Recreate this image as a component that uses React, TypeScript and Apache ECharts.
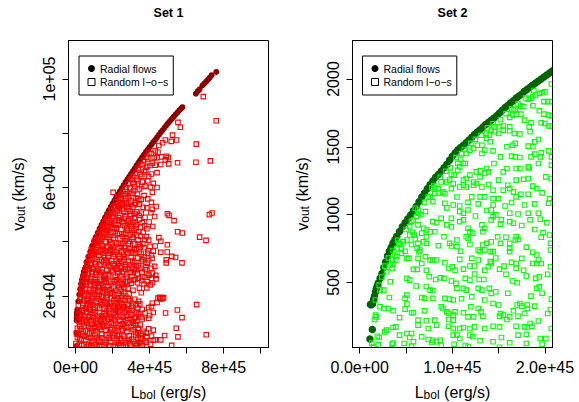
import React, { useEffect, useRef } from "react";
import * as echarts from "echarts";

const FONT = '"Liberation Sans", Arial, sans-serif';
const NAME_RADIAL = "Radial flows";
const NAME_RANDOM = "Random l\u2212o\u2212s";

// Set 1: x in 1e45 erg/s, y in 1000 km/s
const set1XTicks = [0, 2, 4, 6, 8, 10];
const set1XLabels: Record<number, string> = { 0: "0e+00", 4: "4e+45", 8: "8e+45" };
const set1YTicks = [20, 40, 60, 80, 100];
const set1YLabels: Record<number, string> = { 20: "2e+04", 60: "6e+04", 100: "1e+05" };

const set1Radial = [
  [0.03,1.5],[0.05,6.5],[0.06,11],[0.07,12],[0.07,13],[0.08,14],[0.1,15],[0.15,18],[0.2,20.5],[0.25,22.5],[0.3,24.5],[0.35,26],[0.4,27.5],[0.45,29],[0.5,30],
  [0.6,32.5],[0.7,34.5],[0.8,36.5],[0.9,38.5],[1,40.2],[1.1,41.8],[1.2,43.3],[1.3,44.8],[1.4,46.2],[1.5,47.6],[1.6,49],[1.7,50.3],[1.8,51.6],[1.9,52.9],[2,54.1],
  [2.1,55.3],[2.2,56.4],[2.3,57.6],[2.4,58.7],[2.5,59.8],[2.6,60.9],[2.7,62],[2.8,63],[2.9,64],[3,65],[3.1,66],[3.2,67.1],[3.3,68.2],[3.4,69.2],[3.5,70.2],
  [3.6,71.2],[3.7,72.1],[3.8,73.1],[3.9,74],[4,74.9],[4.1,75.8],[4.2,76.7],[4.3,77.6],[4.4,78.5],[4.5,79.4],[4.6,80.3],[4.7,81.1],[4.8,82],[4.9,82.9],[5,83.7],
  [5.1,84.5],[5.2,85.3],[5.3,86.1],[5.4,86.9],[5.5,87.6],[5.6,88.4],[5.7,89.1],[5.77,89.6],
  [6.5,94.6],[6.6,95.5],[6.7,96.2],[6.85,97.6],[6.95,98.3],[7.05,99],[7.15,99.8],[7.25,100.5],[7.35,101.4],[7.6,102.6],
];

const set1Random = [
  [6.9,93.5],[7.6,84.6],[5.53,84],[5.66,82.2],[5.24,79.3],[6.52,76],[4.85,77.5],[5.17,77],[5.46,77.5],[4.7,76.5],[4.5,75.5],[4.9,71.5],[5.0,71],[4.85,70.2],[4.4,71],[4.65,71.3],
  [5.51,69.1],[5.03,68.7],[6.5,69.3],[7.28,69.8],[7.37,50.6],[7.23,50],[5.32,47.8],[4.96,50.3],[5.05,49.7],[5.51,43.7],[5.77,43.2],[6.7,41.7],[7.05,40.5],[4.5,41.5],[4.6,40.2],[4.96,38.9],
  [4.3,38.4],[4.6,36.1],[4.2,36.5],[4.95,36.2],[5.2,34.6],[5.4,34.2],[4.9,33.3],[5.75,32.2],[4.9,32.2],[6.54,16.8],[5.5,14.8],[4.86,13.7],[5.75,12],[5.44,8.1],[7.06,5.7],[5.53,4.9],[4.81,5.4],[5.19,1.8],[4.3,3.8],[4.6,3.8],
  [4.25,71],[4.1,72.5],[4.3,73.5],[4.45,73],[3.9,70.5],[4.15,69],[4.3,68.2],[3.65,68.5],[3.85,67.5],[4.4,65.5],[4.1,65],[3.7,65.7],[3.5,64.8],[3.95,64],[4.6,68.5],[3.4,66.5],
  [3.9,62.5],[4.2,61.5],[3.6,62],[3.3,63],[3.1,61.8],[3.75,60.5],[4.05,60.2],[4.4,60],[4.15,58.2],[3.45,59.5],[2.95,59.8],[3.2,60.2],[2.75,60],[3.35,57.5],[3.7,57],[3.05,57.8],[3.9,55.8],[4.1,54.5],[3.55,55.6],
  [2.6,57.5],[2.85,56.8],[2.45,56],[2.3,55],[2.65,55],[3,55],[3.25,54.2],[3.45,53.8],[2.1,53.2],[2.45,53.5],[2.8,53],[3.1,52.8],[3.65,52.7],[3.85,52.5],[4.15,52],[4.35,53],[1.95,51],[2.25,51.5],[2.6,51.3],[2.95,51.2],
  [3.3,51],[3.55,50.5],[1.75,49.7],[2.05,49.4],[2.4,49.7],[2.7,49.2],[3,49.6],[3.2,48.8],[3.45,48.2],[3.75,49],[1.85,47.8],[2.15,47.9],[2.5,47.5],[2.85,47.8],[3.1,47],[3.6,47],[1.6,47.5],[1.95,46.7],[2.3,46.3],[2.65,46],
  [3,45.7],[3.3,46.2],[3.5,45.4],[3.85,44.8],[1.45,45.2],[1.75,45.5],[2.1,44.8],[2.45,44.5],[2.8,44.2],[3.15,44.2],[3.65,43.5],[1.3,43.8],[1.6,43.6],[1.9,43.4],[2.25,43],[2.6,42.8],[2.95,42.6],[3.3,42.5],[3.5,42],[1.2,42.2],
  [1.45,41.8],[1.75,41.7],[2.05,41.4],[2.4,41.1],[2.75,41],[3.05,40.9],[3.75,40.8],[3.95,40.6],[1.05,40.5],[1.3,40.2],[1.6,40],[1.9,39.8],[2.2,39.6],[2.55,39.4],[2.85,39.3],[3.2,39.2],[3.45,39],[1,38.5],
  [1.2,38.7],[1.45,38.4],[1.75,38.2],[2.05,38],[2.35,37.7],[2.65,37.9],[2.95,37.5],[3.3,37.4],[3.7,37.8],[0.85,37.2],[1.1,37],[1.35,36.8],[1.6,36.6],[1.9,36.4],[2.2,36.1],[2.5,36.2],[2.8,35.9],[3.1,35.8],[3.55,35.5],
  [3.9,35.7],[0.8,35.5],[1,35.3],[1.25,35],[1.5,35],[1.75,34.8],[2.05,34.5],[2.35,34.6],[2.65,34.4],[3,34.2],[3.35,34],[3.7,34.4],[4.1,35.1],[0.7,33.9],[0.9,33.7],[1.15,33.5],[1.4,33.3],[1.65,33.1],[1.95,33],
  [2.2,32.8],[2.5,32.7],[2.85,32.6],[3.2,32.3],[3.55,32.7],[3.95,33],[0.6,32],[0.85,32.1],[1.05,31.8],[1.3,31.6],[1.55,31.6],[1.8,31.3],[2.1,31.1],[2.4,31],[2.7,30.8],[3.05,30.7],[3.4,31.2],[3.8,30.8],[4.1,30.2],
  [0.55,30.4],[0.75,30.2],[0.95,30],[1.2,29.9],[1.45,29.7],[1.7,29.5],[2,29.4],[2.3,29.2],[2.6,29],[2.95,28.7],[3.25,29.3],[3.6,28.8],[3.85,28.3],[4.15,28.4],[0.5,28.5],[0.7,28.3],[0.9,28.2],[1.1,27.9],[1.35,27.8],
  [1.6,27.6],[1.85,27.4],[2.15,27.2],[2.45,27.1],[2.75,26.9],[3.05,27.2],[3.4,26.5],[3.75,26.9],[4.1,26.4],[4.35,26.3],[0.4,26.4],[0.65,26.5],[0.85,26.2],[1.05,26],[1.3,25.8],[1.55,25.6],[1.8,25.4],[2.1,25.3],
  [2.4,25],[2.7,25.1],[3,24.7],[3.35,24.9],[3.7,24.4],[4.15,24.9],[0.35,24.5],[0.6,24.4],[0.8,24.2],[1,24],[1.25,23.8],[1.5,23.7],[1.75,23.5],[2.05,23.3],[2.35,23.1],[2.65,23],[3.45,22.9],[3.85,23],[0.3,22.6],
  [0.55,22.6],[0.75,22.2],[0.95,22],[1.2,21.8],[1.45,21.6],[1.7,21.5],[2,21.2],[2.3,21],[2.6,21],[2.9,20.8],[3.55,21.2],[0.3,20.7],[0.5,20.4],[0.7,20.2],[0.9,20],[1.15,19.8],[1.4,19.6],[1.65,19.4],[1.95,19.2],
  [2.25,19.1],[2.55,18.9],[2.85,19],[3.2,18.8],[4.45,19.2],[4.6,18.9],[4.75,19.4],[4.55,19.5],[4.7,19],[0.25,18.7],[0.45,18.4],[0.65,18.2],[0.85,18],[1.1,17.8],[1.35,17.7],[1.6,17.5],[1.9,17.3],[2.2,17.1],
  [2.5,17],[2.8,16.9],[3.1,17.2],[3.4,18],[4.15,17.3],[4.4,17.6],[0.15,16.6],[0.4,16.5],[0.6,16.3],[0.8,16],[1.05,15.8],[1.3,15.6],[1.55,15.4],[1.85,15.3],[2.15,15.1],[2.45,15],[2.75,14.9],[3.05,14.7],[3.35,15.5],
  [3.6,15],[3.95,15.7],[4.1,16.1],[0.2,14.6],[0.4,14.4],[0.6,14.2],[0.8,14],[1.05,13.8],[1.3,13.7],[1.55,13.5],[1.85,13.3],[2.15,13.1],[2.45,13],[2.75,12.9],[3.05,13.2],[3.4,13.3],[3.75,13.7],[4,12.8],[4.2,13.9],
  [0.25,12.6],[0.45,12.3],[0.7,12.1],[0.95,12],[1.2,11.7],[1.5,11.6],[1.8,11.4],[2.1,11.2],[2.4,11],[2.7,10.9],[3,11.2],[3.3,10.7],[3.6,11.5],[3.95,11.8],[0.2,10.5],[0.35,10.2],[0.6,10],[0.9,9.9],[1.2,9.7],[1.45,9.5],
  [1.75,9.3],[2.05,9.2],[2.35,9],[2.65,8.9],[3,8.7],[3.25,9.5],[3.5,9.3],[0.3,7.9],[0.1,8.1],[0.8,8],[1.05,7.9],[1.35,7.7],[1.65,7.4],[1.95,7.5],[2.3,7.2],[2.55,7.3],[3.1,7.6],[3.4,7.7],[3.65,7],[3.95,7.9],[4.2,7.4],
  [0.05,6.1],[0.15,5.9],[0.35,6],[0.75,6],[1.05,5.8],[1.4,5.8],[1.7,5.5],[2,5.6],[2.25,5.4],[2.6,5.2],[2.9,5.3],[3.25,5.5],[3.55,5.4],[3.85,5],[4.1,5.2],[0.1,4.7],[0.3,3.8],[0.55,3.9],[0.95,3.6],[1.25,3.8],[1.6,3.7],
  [1.9,3.4],[2.2,3.5],[2.5,3.7],[2.85,3.6],[3.15,3.2],[3.45,3],[3.75,3.5],[4.05,2.2],[4.2,3.7],[0.02,2.5],[0.2,2.2],[0.45,1.9],[0.7,2],[1,1.9],[1.3,1.7],[1.55,2],[1.85,1.5],[2.15,1.8],[2.45,1.6],[2.7,1.8],[3,1.5],[3.3,1.7],[3.6,1.8],[0.05,1.2],[0.6,1.2],[1.15,1.2],
  [0.33,23.1],[0.41,25.7],[0.47,27.3],[0.52,29.1],[0.63,31.2],[0.71,33.1],[0.82,35.4],[0.93,37.1],[1.07,39.3],[1.16,40.9],[1.27,42.6],[1.37,44.3],[1.49,46.1],[1.58,47.2],[1.69,48.6],[1.81,50.2],[1.93,51.9],[2.04,53.1],[2.17,54.7],[2.29,56.1],[2.42,57.2],[2.55,58.6],[2.68,60.1],[2.83,61.4],[2.97,63.1],[3.08,64.2],[3.24,65.3],[3.37,67.2],[3.52,68.4],[3.68,69.9],[3.83,71.1],[3.96,72.7],
  [1.13,36.3],[1.87,37.1],[2.71,31.7],[0.97,25.3],[1.52,26.9],[2.29,24.1],[3.13,25.9],[0.67,17.1],[1.43,19.9],[2.09,16.3],[2.93,18.2],[1.22,12.8],[1.93,10.1],[2.57,12.2],[3.22,12.1],[0.87,6.9],[1.49,8.7],[2.13,6.3],[2.77,6.8],[3.37,4.3],
  [1.37,39.2],[1.67,42.7],[2.17,46.1],[2.53,41.9],[2.97,47.2],[3.27,44.9],[1.81,35.7],[2.39,33.7],[2.87,37.3],[3.43,36.1],[1.13,30.9],[1.63,32.2],[2.23,30.3],[2.77,28.1],[3.33,28.2],[0.77,25.3],[1.27,23.1],[1.83,22.3],[2.47,22.2],[2.83,22.7],
  [0.93,19.1],[1.53,18.3],[2.07,18.2],[2.63,16.1],[3.03,16.2],[0.53,15.3],[0.97,14.9],[1.67,14.4],[2.33,14.3],[2.93,13.9],[3.27,14.1],[0.37,11.3],[0.83,10.9],[1.37,10.7],[1.97,12.3],[2.53,9.8],[3.13,9.9],[3.37,8.2],[0.53,7.1],[1.17,6.8],
  [1.83,6.3],[2.43,4.3],[3.03,4.1],[0.67,4.8],[1.43,4.6],[2.07,4.4],[2.73,2.7],[3.33,2.5],[0.87,2.7],[1.67,2.8],[2.33,2.6],[3.53,4.2],[2.03,58.2],[2.37,52.3],[2.73,57.7],[3.13,58.9],[3.57,60.3],[3.27,56.1],[2.87,54.3],[3.43,49.7],
  [1.57,44.7],[1.98,45.3],[2.33,47.8],[2.77,45.1],[3.07,43.3],[3.38,40.7],[3.63,39.2],[1.47,37.2],[1.97,39.1],[2.47,38.3],[2.9,40.1],[3.17,37.1],[3.5,38.1],[1.03,34.2],[1.57,34.1],[2.13,35.3],[2.6,35.4],[3.07,33.1],[3.63,33.4],[0.87,28.9],
  [1.27,28.7],[1.77,28.1],[2.27,28.2],[2.83,30.1],[3.17,30],[3.53,30.2],[0.57,26.8],[1.17,25.2],[1.67,24.9],[2.2,26],[2.57,26.2],[2.93,25.8],[3.23,26.1],[3.57,25.7],[0.47,21.3],[1.07,22.9],[1.57,22.3],[2.17,22.1],[2.47,20.1],[3.1,22.1],
  [0.77,16.9],[1.23,18.9],[1.77,16.3],[2.37,16.1],[2.67,18.4],[3.27,16.7],[3.47,17.1],[0.33,13.1],[0.9,13.1],[1.43,12.4],[2.03,13.9],[2.63,14],[3.17,11.9],[3.53,12.3],[0.47,8.9],[1.03,8.8],[1.57,10.3],[2.23,8.3],[2.83,10.1],[3.37,6.3],
  [4.02,38.3],[4.13,33.9],[3.87,32.1],[4.27,30.9],[3.97,27.7],[3.63,27.1],[3.77,29.7],[4.03,24.1],[3.87,25.3],[4.33,27.6],[3.93,36.7],[3.83,41.9],[3.97,47.3],[4.17,45.6],[3.73,45.9],[4.07,50.7],[4.27,49.3],
  [0.28,19.4],[0.36,21.7],[0.44,23.9],[0.58,25.1],[0.69,29.3],[0.79,31.4],[0.91,34.9],[1.04,36.4],[1.22,39.8],[1.33,41.1],[1.52,43.1],[1.64,45.2],[1.82,47.1],[1.99,48.7],[2.12,50.6],[2.31,52.9],[2.52,54.4],[2.72,55.9],[2.93,57.9],[3.16,61.1],[3.38,62.4],[3.58,64.1],[3.79,66.3],[4.02,68.1],
  [0.42,17.3],[0.62,19.1],[0.82,21.3],[1.02,20.7],[1.28,20.6],[1.48,22.8],[1.72,20.4],[1.88,20.9],[2.12,20.3],[2.38,18.2],[2.72,19.9],[1.12,24.7],[1.38,24.6],[1.62,26.3],[1.92,24.4],[2.23,25.9],[2.52,24.2],[2.82,25.3],[1.08,28.7],[1.42,28.8],
  [1.88,30.3],[2.18,29.9],[2.48,30.2],[2.68,29.8],[3.12,28.6],[1.28,32.7],[1.72,32.4],[2.03,31.9],[2.33,32.1],[2.62,33.3],[2.92,31.4],[3.28,31.1],[1.22,36.1],[1.48,36.2],[1.68,37.7],[2.02,36.9],[2.28,35.4],[2.72,36.7],[3.02,36.3],[3.23,35.7],
  [1.42,40.9],[1.83,40.7],[2.13,42.3],[2.32,39.2],[2.67,40.3],[3.12,41.6],[3.38,38.9],[1.72,44.2],[2.03,43.6],[2.38,42.9],[2.72,43.1],[3.03,44.8],[3.42,43.7],[1.88,46.2],[2.22,45.1],[2.58,47],[2.92,46.4],[3.22,47.3],[2.03,50.4],[2.32,48.9],
  [2.63,48.4],[2.92,50.1],[3.22,50.2],[2.18,52.4],[2.52,52.1],[2.88,52.1],[3.18,53.7],[3.42,55.2],[2.38,54.1],[2.73,54.2],[3.12,56.2],[0.13,13.2],[0.32,14.9],[0.72,15.1],[0.93,16.7],[1.18,16.4],[1.42,16.7],[1.72,17.3],[2.03,15.8],[2.28,15.9],
  [2.58,15.7],[2.88,15.4],[0.12,11.1],[0.52,11.1],[0.78,12.9],[1.08,10.8],[1.33,11.2],[1.62,12.7],[1.88,12.2],[2.28,12.3],[2.82,11.7],[3.12,10.6],[0.22,8.9],[0.42,6.7],[0.68,8.9],[0.92,8.2],[1.28,8.6],[1.58,8.9],[1.88,8.4],[2.18,9.9],
  [2.48,7.9],[2.78,8.2],[3.22,6.7],[3.52,6.3],[3.82,6.3],[0.22,4.2],[0.48,5.2],[0.82,4.7],[1.13,4.7],[1.33,3],[1.78,4.4],[2.33,5.8],[2.63,4.4],[2.93,2.4],[3.22,2.3],[3.52,2.4],[3.83,2.9],[0.33,1.8],[0.83,1.7],[1.42,1.4],[2.03,1.3],[2.58,1.3],
];

// Set 2: x in 1e45 erg/s, y in km/s
const set2XTicks = [0, 0.5, 1, 1.5, 2];
const set2XLabels: Record<number, string> = { 0: "0.0e+00", 1: "1.0e+45", 2: "2.0e+45" };
const set2YTicks = [500, 1000, 1500, 2000];
const set2YLabels: Record<number, string> = { 500: "500", 1000: "1000", 1500: "1500", 2000: "2000" };

const set2Radial = [
  [0.11,82],[0.136,153],[0.115,338],[0.125,335],[0.135,340],[0.14,345],[0.15,375],[0.16,400],[0.17,430],[0.18,455],[0.19,475],[0.2,495],[0.22,530],[0.24,565],[0.26,610],[0.28,650],
  [0.3,695],[0.32,730],[0.34,760],[0.36,790],[0.38,815],[0.4,840],[0.43,875],[0.46,910],[0.49,940],[0.52,970],[0.55,998],[0.58,1028],[0.61,1060],[0.64,1095],[0.67,1130],[0.7,1160],
  [0.73,1190],[0.76,1220],[0.79,1248],[0.82,1275],[0.85,1295],[0.88,1320],[0.91,1345],[0.94,1370],[0.97,1400],[1,1430],[1.03,1455],[1.06,1478],[1.09,1495],[1.12,1512],[1.15,1530],
  [1.18,1550],[1.21,1570],[1.24,1590],[1.27,1610],[1.3,1625],[1.33,1645],[1.36,1665],[1.39,1680],[1.42,1695],[1.45,1712],[1.48,1730],[1.51,1750],[1.54,1770],[1.57,1790],[1.6,1805],
  [1.63,1825],[1.66,1840],[1.69,1860],[1.72,1875],[1.75,1890],[1.78,1910],[1.81,1925],[1.84,1940],[1.87,1955],[1.9,1970],[1.93,1985],[1.96,2000],[1.99,2015],[2.02,2030],[2.05,2045],[2.08,2060],
];

const set2Random = [
  [2.07,1963],[2,1906],[1.97,1899],[1.94,1894],[1.9,1882],[1.87,1869],[1.85,1857],[1.82,1852],[1.99,1833],[2.03,1833],[2.07,1833],[1.87,1803],[1.77,1796],[1.74,1800],[1.94,1766],[1.99,1741],[2.04,1734],[2.07,1727],
  [1.68,1771],[1.66,1771],[1.62,1717],[1.65,1734],[1.69,1741],[1.74,1741],[1.78,1697],[1.85,1677],[1.83,1648],[1.96,1677],[2,1672],[2.04,1653],[2.07,1653],[1.62,1648],[1.55,1653],[1.51,1648],[1.45,1648],[1.42,1623],
  [1.46,1611],[1.37,1598],[1.4,1586],[1.37,1562],[1.55,1623],[1.62,1618],[1.67,1598],[1.73,1594],[1.5,1598],[1.84,1611],[1.93,1554],[1.89,1537],[1.82,1505],[1.87,1500],[2.04,1470],[2.07,1426],[1.96,1456],[1.89,1446],
  [1.95,1426],[1.93,1377],[1.85,1426],[1.59,1500],[1.65,1512],[1.68,1525],[1.64,1431],[1.68,1426],[1.73,1421],[2.07,1365],[1.82,1352],[1.83,1340],[1.73,1340],[1.69,1340],[1.55,1315],[1.59,1340],[1.41,1537],[1.32,1512],
  [1.27,1512],[1.35,1475],[1.23,1488],[1.19,1475],[1.15,1451],[1.09,1406],[1.12,1377],[1.06,1377],[1.14,1377],[1.08,1352],[1.06,1328],[1.32,1451],[1.44,1470],[1.52,1426],[1.45,1377],[1.37,1340],[1.3,1323],[1.26,1315],
  [1.39,1315],[1.35,1303],[1.3,1278],[1.19,1291],[1.15,1266],[1.23,1241],[1.12,1254],[1.02,1291],[0.99,1298],[0.97,1254],[1.01,1229],[0.94,1241],[0.88,1241],[0.85,1192],[0.81,1199],[0.78,1199],[0.85,1160],[0.9,1168],
  [0.92,1155],[0.81,1155],[0.76,1131],[0.99,1192],[1.08,1204],[1.12,1217],[1.15,1204],[1.23,1217],[1.26,1229],[1.32,1204],[1.39,1222],[1.5,1254],[1.6,1217],[1.69,1254],[1.77,1261],[1.82,1266],[2.01,1278],[2.07,1266],
  [1.62,1192],[1.66,1168],[1.91,1192],[1.82,1150],[1.69,1131],[1.5,1118],[1.44,1118],[1.35,1131],[1.3,1131],[1.21,1131],[2.05,1118],[1.44,1180],
  [0.79,1096],[0.92,1084],[1.01,1071],[1.08,1064],[1.28,1079],[1.44,1071],[1.57,1064],[1.64,1089],[1.78,1071],[1.89,1079],[2.04,1084],[0.6,1047],[0.71,1022],[0.63,1034],[1.08,1022],[1.12,1010],[1.17,1034],[1.42,1034],
  [1.47,998],[1.62,1010],[1.71,1005],[1.82,1010],[1.93,1010],[0.79,948],[0.83,941],[0.88,973],[0.99,973],[0.94,924],[0.99,911],[1.08,948],[1.12,961],[1.17,899],[1.22,862],[1.19,874],[1.32,924],[1.35,899],[1.33,874],
  [1.44,985],[1.42,961],[1.53,961],[1.62,948],[1.66,936],[1.84,961],[1.95,966],[0.54,911],[0.63,924],[0.69,899],[0.67,862],[0.72,887],[0.76,874],[0.81,874],[0.54,850],[0.59,850],[0.51,813],[0.63,788],[0.72,837],[0.69,800],
  [0.72,788],[0.65,739],[0.91,837],[0.97,788],[0.99,768],[1.05,813],[1.05,764],[1.17,825],[1.15,837],[1.49,837],[1.58,833],[1.52,788],[1.42,800],[1.37,788],[1.33,776],[1.28,739],[1.3,727],[1.35,739],[1.41,727],[1.44,727],
  [1.62,788],[1.62,751],[1.62,727],[1.69,837],[1.71,818],[1.68,813],[1.96,833],[1.98,867],[2.05,850],[2.06,788],[2.06,739],[0.45,751],[0.45,714],[0.51,677],[0.53,677],[0.62,751],[0.64,727],[0.63,677],[0.67,640],[0.71,690],
  [0.76,665],[0.79,665],[0.83,665],[0.92,645],[1.08,670],[1.21,677],[1.28,665],[1.41,653],[1.42,640],[1.39,616],[1.64,648],[1.75,677],[1.69,640],[1.69,603],[1.87,722],[1.91,702],[1.96,640],[1.91,640],[1.87,640],[1.93,665],
  [2.06,616],[0.35,665],[0.36,640],[0.33,628],[0.39,665],[0.35,603],[0.29,579],[0.58,596],[0.62,596],[1,616],[0.96,603],[1.12,598],[1.19,621],[1.24,621],[1.51,598],[0.33,505],[0.51,530],[0.54,517],[0.61,473],[0.75,542],
  [0.82,522],[0.87,534],[0.91,530],[0.99,510],[1.04,493],[1.14,530],[1.19,517],[1.24,562],[1.29,522],[1.34,522],[1.65,510],[1.7,498],[1.8,547],[1.9,530],[1.94,542],[0.22,443],[0.26,443],[0.76,443],[0.79,438],[1.05,456],
  [1.12,456],[1.15,443],[1.28,456],[1.32,443],[1.4,456],[1.47,431],[1.42,419],[1.91,456],[1.94,468],[1.85,399],[0.32,389],[0.49,382],[0.51,406],[0.67,389],[0.7,382],[0.79,382],[0.92,382],[0.97,377],[1.01,370],[1.21,394],
  [1.35,370],[1.44,345],[1.5,333],[1.66,291],[1.7,333],[1.73,345],[1.75,325],[1.81,333],[1.81,308],[1.89,325],[2.07,377],[0.17,370],[0.22,320],[0.26,308],[0.31,308],[0.36,291],[0.49,303],[0.56,276],[0.58,276],[0.51,340],
  [0.88,320],[0.9,308],[0.94,283],[0.96,271],[1.01,259],[1.03,283],[1.12,276],[1.28,308],[1.31,283],[1.33,251],[1.23,246],[1.17,246],[1.52,271],[1.55,259],[1.51,251],[1.62,246],[1.59,226],[1.78,271],[2.06,300],[2.03,271],
  [0.17,259],[0.18,246],[0.16,226],[0.63,222],[0.63,185],[0.72,217],[0.81,222],[0.83,185],[0.74,160],[0.96,226],[0.96,177],[1.01,222],[1.01,160],[1.08,160],[1.12,168],[1.19,160],[1.24,172],[1.35,160],[1.44,177],[1.51,172],
  [1.69,177],[1.78,172],[1.84,197],[1.86,177],[1.81,168],[2.07,160],[0.27,135],[0.29,148],[0.36,168],[0.39,172],[0.19,103],[0.21,94],[0.43,111],[0.51,123],[0.56,123],[0.54,94],[0.67,99],[0.74,79],[0.79,74],[0.83,62],
  [0.87,74],[1.01,111],[1.05,111],[1.08,86],[1.19,111],[1.22,99],[1.53,94],[1.44,62],[1.71,111],[1.8,118],[1.8,49],[1.95,86],[2.01,86],[1.97,44],[0.13,52],[0.15,27],[0.2,39],[0.35,44],[0.36,52],[0.58,62],[0.56,30],[0.78,57],
  [0.88,35],[1.02,44],[1.14,35],[1.17,27],[1.51,22],[0.5,890],[0.57,870],[0.47,800],[0.42,790],[0.44,780],[0.4,750],[0.49,730],[0.56,780],[0.6,820],[0.38,700],[0.4,690],[0.66,1000],[0.58,960],[0.61,985],
  [0.41,810],[0.36,735],[0.31,680],[0.27,620],[0.24,540],[0.21,480],[0.56,950],[0.63,1010],[0.7,1090],[0.74,1130],[0.8,1215],[0.87,1275],[0.93,1320],[0.98,1345],[1.04,1420],[1.1,1450],[1.13,1480],[1.2,1525],
  [1.25,1555],[1.31,1585],[1.38,1640],[1.44,1670],[1.52,1700],[1.58,1745],[1.64,1780],[1.71,1815],[1.79,1860],[1.88,1915],[0.94,1050],[1.05,1130],[1.17,1090],[1.25,990],[1.37,1030],[1.55,1180],[1.74,1150],[1.87,1210],[1.97,1160],
  [1.52,930],[1.75,920],[1.89,890],[2.02,940],[0.85,770],[1.09,730],[1.19,780],[1.47,680],[1.56,620],[1.8,760],[0.72,590],[1.03,590],[1.35,590],[1.58,560],[1.77,590],[2.03,560],[0.72,470],[1.1,380],[1.6,420],[1.97,420],[0.43,240],[0.7,290],[1.2,320],[1.71,250],[1.93,215],[0.48,50],[1.3,70],[1.62,55],
];

function panel(i: number, left: number, xRange: number[], yRange: number[], xTicks: number[], xLabels: Record<number, string>, yTicks: number[], yLabels: Record<number, string>, nameGap: number) {
  const axisName = { a: { fontSize: 16, fontFamily: FONT, color: "#000" }, b: { fontSize: 12, fontFamily: FONT, color: "#000", padding: [5, 0, 0, 0] } };
  const common = { z: 5, axisLine: { show: true, onZero: false, lineStyle: { color: "#000", width: 1 } }, splitLine: { show: false } };
  return {
    grid: { left, top: 40.5, width: 200, height: 307, show: true, z: 5, borderColor: "#000", borderWidth: 1, backgroundColor: "transparent", outerBoundsMode: "none" },
    xAxis: {
      ...common, type: "value", gridIndex: i, min: xRange[0], max: xRange[1],
      axisTick: { length: 6, customValues: xTicks, lineStyle: { color: "#000" } },
      axisLabel: { customValues: Object.keys(xLabels).map(Number), formatter: (v: number) => xLabels[v] ?? "", fontSize: 16, fontFamily: FONT, color: "#000", margin: 12, hideOverlap: false },
      name: "{a|L}{b|bol}{a| (erg/s)}", nameLocation: "middle", nameGap: 36, nameTextStyle: { rich: axisName },
    },
    yAxis: {
      ...common, type: "value", gridIndex: i, min: yRange[0], max: yRange[1],
      axisTick: { length: 6, customValues: yTicks, lineStyle: { color: "#000" } },
      axisLabel: { customValues: Object.keys(yLabels).map(Number), formatter: (v: number) => yLabels[v] ?? "", rotate: 90, fontSize: 16, fontFamily: FONT, color: "#000", margin: 11, hideOverlap: false },
      name: "{a|v}{b|out}{a| (km/s)}", nameLocation: "middle", nameRotate: 90, nameGap, nameTextStyle: { rich: axisName },
    },
  };
}

function series(i: number, radial: number[][], random: number[][], dark: string, light: string, size: number) {
  return [
    { name: NAME_RADIAL, type: "scatter", xAxisIndex: i, yAxisIndex: i, z: 2, data: radial, symbol: "circle", symbolSize: size, itemStyle: { color: dark, opacity: 1 }, silent: true },
    { name: NAME_RANDOM, type: "scatter", xAxisIndex: i, yAxisIndex: i, z: 2, data: random, symbol: "rect", symbolSize: 4.5, itemStyle: { color: "none", borderColor: light, borderWidth: 1.1, opacity: 1 }, silent: true },
  ];
}

function legend(left: number) {
  return {
    left, top: 56, orient: "vertical", z: 6, selectedMode: false, itemWidth: 7, itemHeight: 7, itemGap: 2,
    padding: [7, 5, 7, 6.5], borderColor: "#000", borderWidth: 1, backgroundColor: "#fff",
    textStyle: { fontSize: 10.5, fontFamily: FONT, color: "#000" },
    data: [
      { name: NAME_RADIAL, icon: "circle", itemStyle: { color: "#000", borderWidth: 0 } },
      { name: NAME_RANDOM, icon: "rect", itemStyle: { color: "none", borderColor: "#000", borderWidth: 1 } },
    ],
  };
}

export default function App() {
  const ref = useRef<HTMLDivElement>(null);
  useEffect(() => {
    document.body.style.margin = "0";
    const chart = echarts.init(ref.current!, undefined, { renderer: "svg" });
    const a = panel(0, 68.5, [-0.38, 10.42], [1, 114.2], set1XTicks, set1XLabels, set1YTicks, set1YLabels, 42);
    const b = panel(1, 352.5, [-0.078, 2.082], [20, 2284], set2XTicks, set2XLabels, set2YTicks, set2YLabels, 42);
    const mask = (x: number, y: number, width: number, height: number) => ({ type: "rect", z: 3, silent: true, shape: { x, y, width, height }, style: { fill: "#fff" } });
    chart.setOption({
      animation: false,
      backgroundColor: "#fff",
      title: [
        { text: "Set 1", left: 168.5, top: 6, textAlign: "center", textStyle: { fontSize: 12.5, fontWeight: "bold", fontFamily: FONT, color: "#000" }, padding: 0 },
        { text: "Set 2", left: 452.5, top: 6, textAlign: "center", textStyle: { fontSize: 12.5, fontWeight: "bold", fontFamily: FONT, color: "#000" }, padding: 0 },
      ],
      grid: [a.grid, b.grid],
      xAxis: [a.xAxis, b.xAxis],
      yAxis: [a.yAxis, b.yAxis],
      legend: [legend(79), legend(362.5)],
      series: [...series(0, set1Radial, set1Random, "#8B0000", "#FF0000", 6), ...series(1, set2Radial, set2Random, "#006400", "#00FF00", 7.5)],
      graphic: [mask(60, 348, 218, 6), mask(344, 348, 218, 6), mask(553, 36, 10, 316)],
    });
    return () => chart.dispose();
  }, []);
  return <div ref={ref} style={{ width: 579, height: 402 }} />;
}
